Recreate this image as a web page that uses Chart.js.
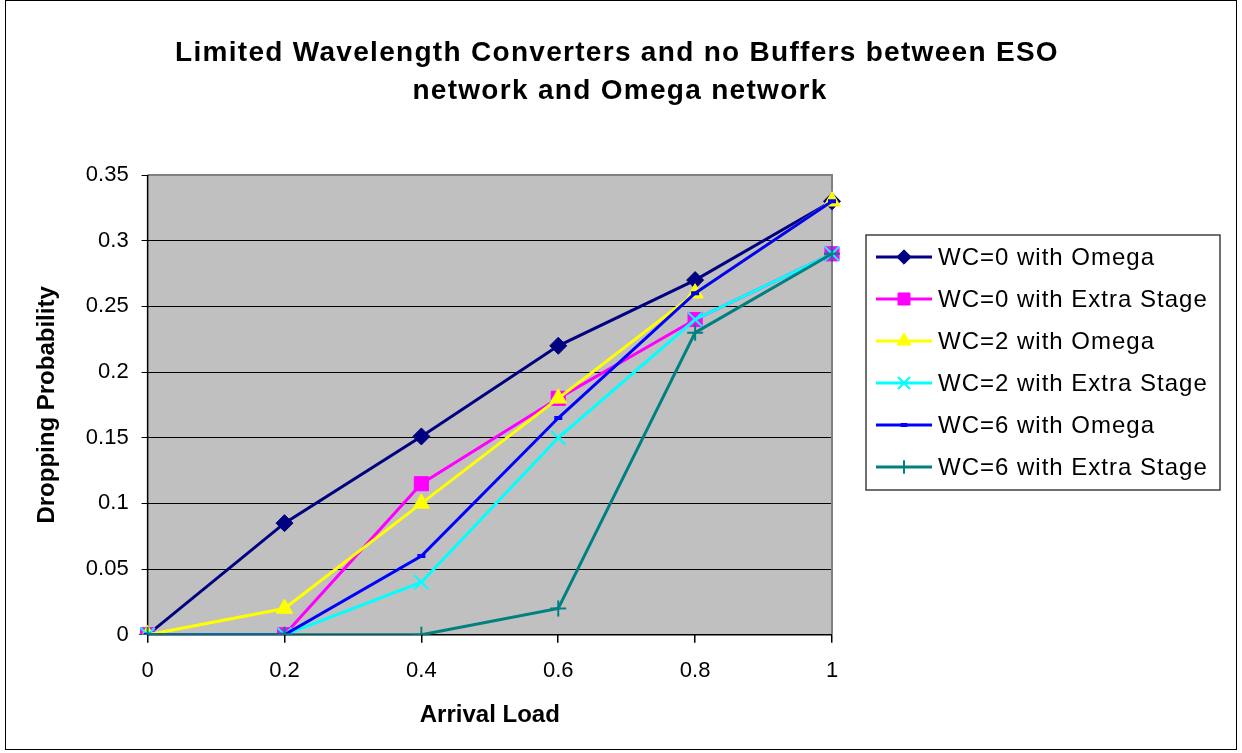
<!DOCTYPE html>
<html>
<head>
<meta charset="utf-8">
<script src="https://cdn.jsdelivr.net/npm/chart.js@4.4.1/dist/chart.umd.min.js"></script>
<style>
  html, body { margin: 0; padding: 0; background: #fff; }
  #wrap { width: 1242px; height: 753px; }
</style>
</head>
<body>
<div id="wrap"><canvas id="chart" width="1242" height="753"></canvas></div>
<script>
// values
var loads = ['0', '0.2', '0.4', '0.6', '0.8', '1'];
var wc0Omega = [0, 0.085, 0.151, 0.22, 0.27, 0.33];
var wc0Extra = [0, 0, 0.115, 0.18, 0.24, 0.29];
var wc2Omega = [0, 0.02, 0.10, 0.18, 0.26, 0.33];
var wc2Extra = [0, 0, 0.04, 0.15, 0.24, 0.29];
var wc6Omega = [0, 0, 0.06, 0.165, 0.26, 0.33];
var wc6Extra = [0, 0, 0, 0.02, 0.23, 0.29];
var yTicks = ['0', '0.05', '0.1', '0.15', '0.2', '0.25', '0.3', '0.35'];
var titleLines = ['Limited Wavelength Converters and no Buffers between ESO', 'network and Omega network'];

var FONT = 'Arial, "Liberation Sans", sans-serif';

function series(label, data, color, style, radius, bw) {
  return {
    label: label,
    data: data,
    borderColor: color,
    backgroundColor: color,
    pointBackgroundColor: color,
    pointBorderColor: color,
    borderWidth: 3,
    pointStyle: style,
    pointRadius: radius,
    pointHoverRadius: radius,
    pointBorderWidth: bw,
    tension: 0,
    fill: false
  };
}

var datasets = [
  series('WC=0 with Omega', wc0Omega, '#000080', 'rectRot', 8.5, 1),
  series('WC=0 with Extra Stage', wc0Extra, '#ff00ff', 'rect', 10, 1),
  series('WC=2 with Omega', wc2Omega, '#ffff00', 'triangle', 9.5, 1),
  series('WC=2 with Extra Stage', wc2Extra, '#00ffff', 'crossRot', 10, 2),
  series('WC=6 with Omega', wc6Omega, '#0000ff', 'line', 4, 4),
  series('WC=6 with Extra Stage', wc6Extra, '#008080', 'cross', 8, 2)
];
datasets.forEach(function (d, i) { d.order = datasets.length - i; });

var decor = {
  id: 'decor',
  beforeDraw: function (chart) {
    var c = chart.ctx, a = chart.chartArea;
    c.save();
    c.fillStyle = '#c0c0c0';
    c.fillRect(a.left, a.top, a.right - a.left, a.bottom - a.top);
    c.restore();
  },
  beforeDatasetsDraw: function (chart) {
    var c = chart.ctx, a = chart.chartArea;
    c.save();
    c.strokeStyle = '#808080';
    c.lineWidth = 2;
    c.beginPath();
    c.moveTo(a.left, a.top);
    c.lineTo(a.right, a.top);
    c.lineTo(a.right, a.bottom);
    c.stroke();
    c.strokeStyle = '#000';
    c.lineWidth = 1.5;
    c.beginPath();
    c.moveTo(a.left, a.top);
    c.lineTo(a.left, a.bottom);
    c.lineTo(a.right, a.bottom);
    c.stroke();
    c.restore();
  },
  afterDraw: function (chart) {
    var c = chart.ctx;
    c.save();
    // outer frame
    c.strokeStyle = '#000';
    c.lineWidth = 1;
    c.strokeRect(5.5, 0.5, 1231, 749);
    // title
    c.fillStyle = '#000';
    c.font = 'bold 28px ' + FONT;
    c.textAlign = 'center';
    c.textBaseline = 'middle';
    c.letterSpacing = '1.3px';
    c.fillText(titleLines[0], 617, 53);
    c.fillText(titleLines[1], 620, 91);
    // legend
    var lx = 866, ly = 235, lw = 354, lh = 255;
    c.fillStyle = '#fff';
    c.fillRect(lx, ly, lw, lh);
    c.strokeStyle = '#404040';
    c.lineWidth = 1.5;
    c.strokeRect(lx, ly, lw, lh);
    c.font = '24px ' + FONT;
    c.letterSpacing = '1px';
    c.textAlign = 'left';
    chart.data.datasets.forEach(function (d, i) {
      var y = ly + 22 + i * 42;
      c.strokeStyle = d.borderColor;
      c.lineWidth = 3;
      c.beginPath();
      c.moveTo(lx + 10, y);
      c.lineTo(lx + 66, y);
      c.stroke();
      c.fillStyle = d.pointBackgroundColor;
      c.strokeStyle = d.pointBorderColor;
      c.lineWidth = d.pointBorderWidth;
      Chart.helpers.drawPoint(c, { pointStyle: d.pointStyle, radius: d.pointRadius * 0.85, rotation: 0, borderWidth: d.pointBorderWidth }, lx + 38, y);
      c.fillStyle = '#000';
      c.fillText(d.label, lx + 72, y + 1);
    });
    c.restore();
  }
};

new Chart(document.getElementById('chart'), {
  type: 'line',
  data: { labels: loads, datasets: datasets },
  options: {
    responsive: false,
    animation: false,
    devicePixelRatio: 1,
    layout: { padding: { left: 33, right: 410, top: 175, bottom: 23 } },
    plugins: {
      legend: { display: false },
      tooltip: { enabled: false },
      title: { display: false }
    },
    scales: {
      x: {
        type: 'category',
        offset: false,
        grid: { display: true, drawOnChartArea: false, drawTicks: true, tickLength: 8, color: '#000', lineWidth: 1.5 },
        border: { display: false },
        ticks: { color: '#000', font: { family: FONT, size: 22 }, padding: 15, maxRotation: 0 },
        title: { display: true, text: 'Arrival Load', color: '#000', font: { family: FONT, size: 24, weight: 'bold' }, padding: { top: 2, bottom: 0 } }
      },
      y: {
        min: 0,
        max: 0.35,
        ticks: {
          stepSize: 0.05,
          color: '#000',
          font: { family: FONT, size: 22 },
          padding: 13,
          callback: function (v) { return yTicks[Math.round(v / 0.05)]; }
        },
        grid: { color: '#000', lineWidth: 1, tickLength: 6 },
        border: { display: false },
        title: { display: true, text: 'Dropping Probability', color: '#000', font: { family: FONT, size: 24, weight: 'bold' }, padding: { top: 0, bottom: 11 } }
      }
    }
  },
  plugins: [decor]
});
</script>
</body>
</html>
